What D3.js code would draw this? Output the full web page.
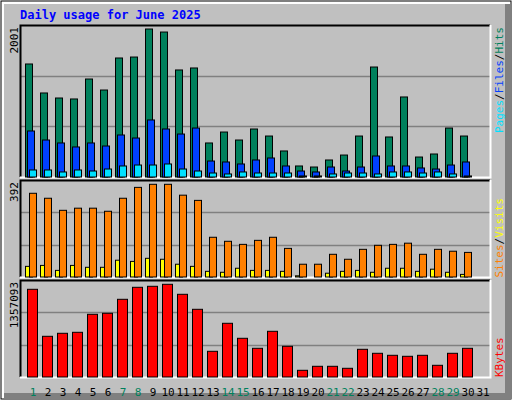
<!DOCTYPE html>
<html><head><meta charset="utf-8">
<script src="https://cdn.jsdelivr.net/npm/d3@7"></script>
<style>body{margin:0;background:#fff}svg{display:block}</style>
</head><body>
<script>
const days = d3.range(1, 32);
const weekend = [1,7,8,14,15,21,22,28,29];
const hits  = [1528,1136,1068,1055,1325,1176,1609,1622,2001,1960,1447,1474,460,608,500,649,554,352,149,135,230,297,554,1487,541,1082,270,311,662,554,0];
const files = [622,500,460,406,460,419,568,527,771,649,581,662,216,203,176,230,257,149,81,68,135,81,135,284,149,149,122,108,162,203,0];
const pages = [95,95,68,95,81,108,149,162,162,176,108,81,54,41,68,54,54,54,14,14,41,54,54,41,68,68,54,68,41,14,0];
const visits = [354,333,282,291,291,278,333,379,392,392,346,324,168,151,138,155,168,121,54,54,96,75,117,134,138,143,96,117,109,104,0];
const sites  = [45,49,28,49,41,41,71,66,79,75,54,45,24,20,37,28,28,24,5,0,16,24,28,20,37,37,24,33,20,11,0];
const kbytes = [1283900,595800,639800,654400,917900,932600,1137500,1313200,1327800,1357093,1210700,991100,376200,786200,566600,420200,669000,449400,98100,156600,156600,127400,405500,347000,317700,303000,317700,171300,347000,420200,0];

const svg = d3.select("body").append("svg").attr("width",512).attr("height",400);
const F = "'DejaVu Sans Mono', monospace";
svg.append("rect").attr("x",0).attr("y",0).attr("width",512).attr("height",400).attr("fill","#fff");
svg.append("rect").attr("x",1).attr("y",1).attr("width",510).attr("height",398).attr("fill","none").attr("stroke","#000");
svg.append("rect").attr("x",4).attr("y",4).attr("width",501).attr("height",389).attr("fill","#c0c0c0");
svg.append("rect").attr("x",505).attr("y",4).attr("width",6).attr("height",395).attr("fill","#808080");
svg.append("rect").attr("x",4).attr("y",393).attr("width",507).attr("height",6).attr("fill","#808080");

svg.append("text").attr("x",20).attr("y",19).attr("font-family",F).attr("font-weight","bold")
  .attr("font-size",12).attr("fill","#0000ff").text("Daily usage for June 2025");

const xs = d3.scaleLinear().domain([1,31]).range([25,475]);

function panel(top, bottom, maxTop, maxVal, label){
  svg.append("rect").attr("x",20).attr("y",top).attr("width",470).attr("height",bottom-top).attr("fill","#c0c0c0");
  const y = d3.scaleLinear().domain([0,maxVal]).range([bottom,maxTop]);
  const h = bottom-top;
  [1/3,2/3].forEach(f=>svg.append("line").attr("x1",20).attr("x2",490)
    .attr("y1",Math.round(bottom-h*f)+0.5).attr("y2",Math.round(bottom-h*f)+0.5).attr("stroke","#808080").attr("stroke-width",1.5));
  svg.append("path").attr("d",`M20.5,${bottom}V${top+0.5}H490`).attr("stroke","#000").attr("fill","none").attr("stroke-width",2);
  svg.append("path").attr("d",`M490.5,${top}V${bottom+0.5}H20`).attr("stroke","#fff").attr("fill","none").attr("stroke-width",2);
  svg.append("text").attr("transform",`translate(18,${top+2}) rotate(-90)`).attr("text-anchor","end")
    .attr("font-family",F).attr("font-size",11).attr("fill","#000").text(label);
  return y;
}
function bars(data, y, dx, w, color){
  svg.append("g").selectAll("rect").data(data.map((v,i)=>({v,d:i+1})).filter(o=>o.v>0)).join("rect")
    .attr("x",o=>xs(o.d)+dx+0.5).attr("y",o=>y(o.v)).attr("width",w)
    .attr("height",o=>Math.max(0,y(0)-y(o.v))).attr("fill",color).attr("stroke","#000").attr("stroke-width",1);
}
const y1 = panel(25,177,29,2001,"2001");
bars(hits,y1,0,7,"#00805c"); bars(files,y1,2,7,"#0040ff"); bars(pages,y1,4,7,"#00e0ff");
const y2 = panel(180,277,184.3,392,"392");
bars(sites,y2,0,7,"#ffff00"); bars(visits,y2,4,7,"#ff8000");
const y3 = panel(280,377,284.3,1357093,"1357093");
bars(kbytes,y3,2,10,"#ff0000");

svg.append("g").selectAll("text").data(days).join("text")
  .attr("x",d=>xs(d)+8).attr("y",396).attr("text-anchor","middle").attr("font-family",F).attr("font-size",11)
  .attr("fill",d=>weekend.includes(d)?"#00805c":"#000").text(d=>d);

function rlabel(yTop, parts){
  const t = svg.append("text").attr("transform",`translate(503,${yTop}) rotate(-90)`)
    .attr("text-anchor","end").attr("font-family",F).attr("font-size",11);
  parts.forEach(([s,c])=>t.append("tspan").attr("fill",c).text(s));
}
rlabel(27,[["Pages","#00e0ff"],["/","#000"],["Files","#0040ff"],["/","#000"],["Hits","#00805c"]]);
rlabel(198,[["Sites","#ff8000"],["/","#000"],["Visits","#ffff00"]]);
rlabel(212,[]);
svg.append("text").attr("transform",`translate(503,377) rotate(-90)`).attr("font-family",F)
  .attr("font-size",11).attr("fill","#ff0000").text("KBytes");
</script>
</body></html>
